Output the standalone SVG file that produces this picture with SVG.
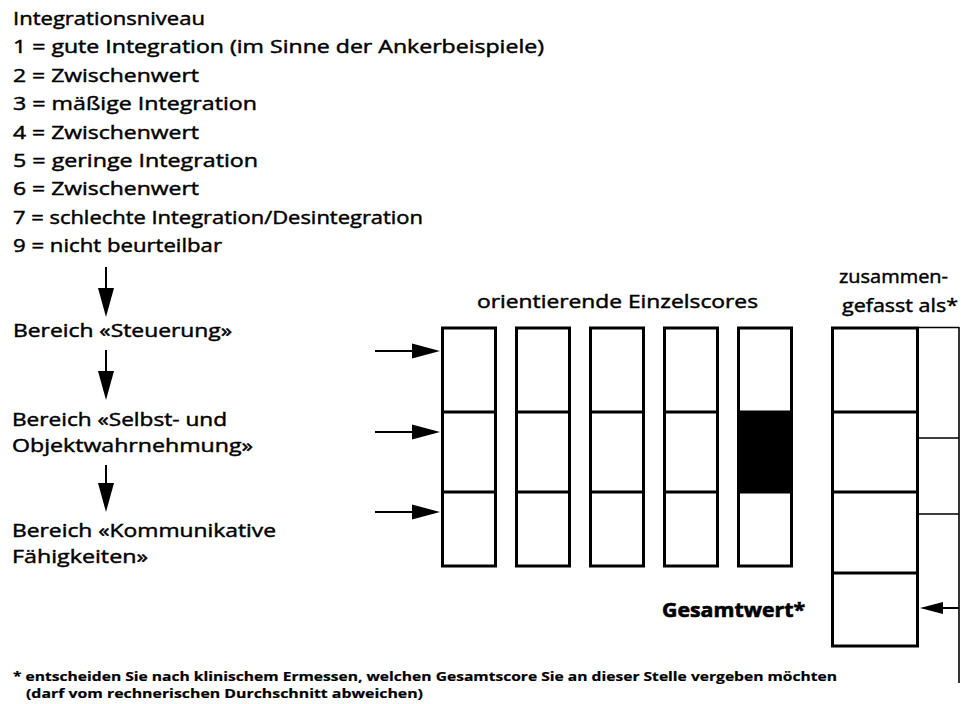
<svg xmlns="http://www.w3.org/2000/svg" width="963" height="704" viewBox="0 0 963 704">
  <defs>
    <style>
      .t { font-family: "Open Sans", "Liberation Sans", sans-serif; font-size: 18.5px; fill: #000; stroke: #000; stroke-width: 0.45; }
      .b { font-weight: 700; font-size: 19px; stroke-width: 0.6; }
      .f { font-size: 13px; font-weight: 700; stroke-width: 0.2; }
      .box { fill: #fff; stroke: #000; stroke-width: 3; }
      .div { stroke: #000; stroke-width: 3; }
      .thin { stroke: #000; stroke-width: 1.6; fill: none; }
      .shaft { stroke: #000; stroke-width: 2; }
    </style>
  </defs>
  <rect width="963" height="704" fill="#fff"/>

  <!-- legend of integration levels -->
  <g id="legend" class="t">
    <text x="13" y="25" textLength="192" lengthAdjust="spacingAndGlyphs">Integrationsniveau</text>
    <text x="13" y="53.4" textLength="531" lengthAdjust="spacingAndGlyphs">1 = gute Integration (im Sinne der Ankerbeispiele)</text>
    <text x="13" y="81.8" textLength="186" lengthAdjust="spacingAndGlyphs">2 = Zwischenwert</text>
    <text x="13" y="110.2" textLength="244" lengthAdjust="spacingAndGlyphs">3 = mäßige Integration</text>
    <text x="13" y="138.6" textLength="186" lengthAdjust="spacingAndGlyphs">4 = Zwischenwert</text>
    <text x="13" y="167" textLength="245" lengthAdjust="spacingAndGlyphs">5 = geringe Integration</text>
    <text x="13" y="195.4" textLength="186" lengthAdjust="spacingAndGlyphs">6 = Zwischenwert</text>
    <text x="13" y="223.8" textLength="410" lengthAdjust="spacingAndGlyphs">7 = schlechte Integration/Desintegration</text>
    <text x="13" y="252.2" textLength="209" lengthAdjust="spacingAndGlyphs">9 = nicht beurteilbar</text>
  </g>

  <!-- domain labels -->
  <g id="bereich-steuerung" class="t">
    <text x="13" y="337" textLength="219" lengthAdjust="spacingAndGlyphs">Bereich «Steuerung»</text>
  </g>
  <g id="bereich-selbst" class="t">
    <text x="12" y="426" textLength="215" lengthAdjust="spacingAndGlyphs">Bereich «Selbst- und</text>
    <text x="12" y="452" textLength="241" lengthAdjust="spacingAndGlyphs">Objektwahrnehmung»</text>
  </g>
  <g id="bereich-kommunikation" class="t">
    <text x="12" y="537" textLength="264" lengthAdjust="spacingAndGlyphs">Bereich «Kommunikative</text>
    <text x="12" y="563" textLength="136" lengthAdjust="spacingAndGlyphs">Fähigkeiten»</text>
  </g>

  <!-- column headers -->
  <g id="header-einzelscores" class="t">
    <text x="477" y="308" textLength="281" lengthAdjust="spacingAndGlyphs">orientierende Einzelscores</text>
  </g>
  <g id="header-zusammen" class="t">
    <text x="839" y="283" textLength="109" lengthAdjust="spacingAndGlyphs">zusammen-</text>
    <text x="842" y="312" textLength="116" lengthAdjust="spacingAndGlyphs">gefasst als*</text>
  </g>

  <!-- five single-score columns -->
  <g id="score-col-1">
    <rect class="box" x="442.5" y="328" width="53" height="238"/>
    <line class="div" x1="442.5" y1="412" x2="495.5" y2="412"/>
    <line class="div" x1="442.5" y1="492" x2="495.5" y2="492"/>
  </g>
  <g id="score-col-2">
    <rect class="box" x="516.5" y="328" width="53" height="238"/>
    <line class="div" x1="516.5" y1="412" x2="569.5" y2="412"/>
    <line class="div" x1="516.5" y1="492" x2="569.5" y2="492"/>
  </g>
  <g id="score-col-3">
    <rect class="box" x="590.5" y="328" width="53" height="238"/>
    <line class="div" x1="590.5" y1="412" x2="643.5" y2="412"/>
    <line class="div" x1="590.5" y1="492" x2="643.5" y2="492"/>
  </g>
  <g id="score-col-4">
    <rect class="box" x="664.5" y="328" width="53" height="238"/>
    <line class="div" x1="664.5" y1="412" x2="717.5" y2="412"/>
    <line class="div" x1="664.5" y1="492" x2="717.5" y2="492"/>
  </g>
  <g id="score-col-5">
    <rect class="box" x="738.5" y="328" width="53" height="238"/>
    <rect x="738.5" y="412" width="53" height="80" fill="#000"/>
    <line class="div" x1="738.5" y1="412" x2="791.5" y2="412"/>
    <line class="div" x1="738.5" y1="492" x2="791.5" y2="492"/>
  </g>

  <!-- combined column with total -->
  <g id="combined-col">
    <rect class="box" x="832.5" y="328" width="85" height="318"/>
    <line class="div" x1="832.5" y1="412" x2="917.5" y2="412"/>
    <line class="div" x1="832.5" y1="492" x2="917.5" y2="492"/>
    <line class="div" x1="832.5" y1="573" x2="917.5" y2="573"/>
  </g>
  <g id="side-strip">
    <path class="thin" d="M919 327.5 H959 M919 438 H959 M919 514 H959"/>
  </g>

  <g id="gesamtwert-label">
    <text class="t b" x="662" y="617" textLength="143" lengthAdjust="spacingAndGlyphs">Gesamtwert*</text>
  </g>

  <!-- connectors -->
  <g id="connectors">
    <line class="shaft" x1="106" y1="267" x2="106" y2="292"/>
    <polygon points="98,288 114,288 106,317"/>
    <line class="shaft" x1="106" y1="350" x2="106" y2="375"/>
    <polygon points="98,371 114,371 106,400"/>
    <line class="shaft" x1="106" y1="465" x2="106" y2="487"/>
    <polygon points="98,483 114,483 106,512"/>

    <line class="shaft" x1="375" y1="351" x2="415" y2="351"/>
    <polygon points="412,343.5 412,358.5 440,351"/>
    <line class="shaft" x1="375" y1="432" x2="415" y2="432"/>
    <polygon points="412,424.5 412,439.5 440,432"/>
    <line class="shaft" x1="375" y1="512" x2="415" y2="512"/>
    <polygon points="412,504.5 412,519.5 440,512"/>

    <line class="thin" x1="959" y1="327" x2="959" y2="683"/>
    <line class="shaft" x1="959" y1="608" x2="940" y2="608"/>
    <polygon points="943,602 943,614 920,608"/>
  </g>

  <!-- footnote -->
  <g id="footnote" class="t f">
    <text x="13" y="681" textLength="824" lengthAdjust="spacingAndGlyphs">* entscheiden Sie nach klinischem Ermessen, welchen Gesamtscore Sie an dieser Stelle vergeben möchten</text>
    <text x="26" y="697.5" textLength="397" lengthAdjust="spacingAndGlyphs">(darf vom rechnerischen Durchschnitt abweichen)</text>
  </g>
</svg>
